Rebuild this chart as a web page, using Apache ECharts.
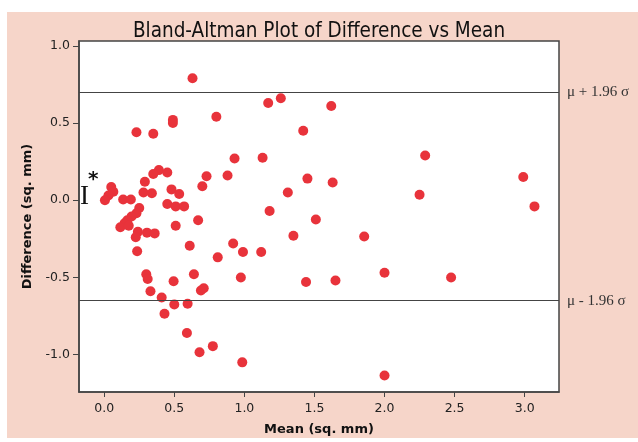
<!DOCTYPE html>
<html>
<head>
<meta charset="utf-8">
<script src="https://cdn.jsdelivr.net/npm/echarts@6/dist/echarts.min.js"></script>
<style>
  html, body { margin: 0; padding: 0; background: #fff; }
  #chart { width: 638px; height: 442px; }
</style>
</head>
<body>
<div id="chart"></div>
<script>
// mean (x) and difference (y) of each pair
const meanVals = [
  0.63, 0.80, 0.49, 0.49, 0.23, 0.35, 1.26, 1.17, 1.62, 1.42, 2.29, 0.93, 1.13, 0.88, 1.45, 1.63,
  1.31, 2.25, 1.18, 1.51, 2.99, 3.07, 0.39, 0.45, 0.35, 0.73, 0.29, 0.70, 0.05, 0.065, 0.03, 0.48,
  0.28, 0.34, 0.535, 0.005, 0.135, 0.19, 0.45, 0.51, 0.57, 0.25, 0.23, 0.195, 0.165, 0.145, 0.115,
  0.175, 0.67, 0.51, 0.24, 0.305, 0.36, 0.225, 0.235, 0.61, 0.92, 0.99, 1.12, 0.81, 1.35, 1.855,
  0.30, 0.31, 0.64, 0.495, 0.975, 1.44, 1.65, 2.0, 2.475, 0.33, 0.69, 0.71, 0.41, 0.50, 0.595,
  0.43, 0.59, 0.775, 0.68, 0.985, 2.0
];
const diffVals = [
  0.79, 0.54, 0.52, 0.50, 0.44, 0.43, 0.66, 0.63, 0.61, 0.45, 0.29, 0.27, 0.275, 0.16, 0.14, 0.115,
  0.05, 0.035, -0.07, -0.125, 0.15, -0.04, 0.195, 0.18, 0.17, 0.155, 0.12, 0.09, 0.085, 0.055, 0.03, 0.07,
  0.05, 0.045, 0.04, 0.0, 0.005, 0.005, -0.025, -0.04, -0.04, -0.05, -0.085, -0.105, -0.13, -0.15, -0.175,
  -0.165, -0.13, -0.165, -0.205, -0.21, -0.215, -0.24, -0.33, -0.295, -0.28, -0.335, -0.335, -0.37, -0.23, -0.235,
  -0.48, -0.51, -0.48, -0.525, -0.50, -0.53, -0.52, -0.47, -0.50, -0.59, -0.585, -0.57, -0.63, -0.675, -0.67,
  -0.735, -0.86, -0.945, -0.985, -1.05, -1.135
];
const upperLimit = 0.703;
const lowerLimit = -0.647;
const xTicks = [0, 0.5, 1.0, 1.5, 2.0, 2.5, 3.0];
const yTicks = [-1.0, -0.5, 0.0, 0.5, 1.0];

const points = meanVals.map((m, i) => [m, diffVals[i]]);

const chart = echarts.init(document.getElementById('chart'));

const axisText = { color: '#222', fontFamily: 'DejaVu Sans', fontSize: 12.5 };

const option = {
  animation: false,
  graphic: [
    {
      type: 'rect',
      z: -10,
      shape: { x: 7, y: 12, width: 631, height: 426 },
      style: { fill: '#f6d5c9' },
      silent: true
    }
  ],
  title: {
    text: 'Bland-Altman Plot of Difference vs Mean',
    left: 'center',
    top: 16,
    textStyle: { fontFamily: 'DejaVu Sans Condensed, DejaVu Sans', fontWeight: 'normal', fontSize: 20.5, color: '#111' }
  },
  grid: {
    left: 79, top: 41, right: 79, bottom: 50,
    show: true,
    backgroundColor: '#fff',
    borderColor: '#444',
    borderWidth: 1.5
  },
  xAxis: {
    type: 'value',
    min: -0.18,
    max: 3.245,
    name: 'Mean (sq. mm)',
    nameLocation: 'middle',
    nameGap: 31,
    nameTextStyle: { fontFamily: 'DejaVu Sans', fontWeight: 'bold', fontSize: 13, color: '#111' },
    axisLine: { show: true, onZero: false, lineStyle: { color: '#444', width: 1.5 } },
    axisTick: { show: true, length: 5, customValues: xTicks, lineStyle: { color: '#444' } },
    axisLabel: Object.assign({ customValues: xTicks, margin: 10, formatter: v => v.toFixed(1) }, axisText),
    splitLine: { show: false }
  },
  yAxis: {
    type: 'value',
    min: -1.242,
    max: 1.031,
    name: 'Difference (sq. mm)',
    nameLocation: 'middle',
    nameGap: 45,
    nameTextStyle: { fontFamily: 'DejaVu Sans', fontWeight: 'bold', fontSize: 13, color: '#111' },
    axisLine: { show: true, onZero: false, lineStyle: { color: '#444', width: 1.5 } },
    axisTick: { show: true, length: 6, customValues: yTicks, lineStyle: { color: '#444' } },
    axisLabel: Object.assign({ customValues: yTicks, margin: 9, formatter: v => v.toFixed(1) }, axisText),
    splitLine: { show: false }
  },
  series: [
    {
      type: 'scatter',
      data: points,
      symbolSize: 10,
      itemStyle: { color: '#e8333b', opacity: 1 },
      markLine: {
        silent: true,
        symbol: 'none',
        lineStyle: { color: '#444', type: 'solid', width: 1.2 },
        label: {
          position: 'end',
          distance: 8,
          fontFamily: 'Liberation Serif',
          fontSize: 15,
          color: '#333'
        },
        data: [
          { yAxis: upperLimit, label: { formatter: 'μ + 1.96 σ' } },
          { yAxis: lowerLimit, label: { formatter: 'μ - 1.96 σ' } }
        ]
      },
      markPoint: {
        silent: true,
        symbol: 'circle',
        symbolSize: 0,
        data: [
          {
            coord: [-0.14, 0.022],
            label: { show: true, formatter: 'I', position: 'inside', fontFamily: 'Liberation Serif', fontSize: 27, color: '#111' }
          },
          {
            coord: [-0.078, 0.13],
            label: { show: true, formatter: '*', position: 'inside', fontFamily: 'DejaVu Sans', fontWeight: 'bold', fontSize: 20, color: '#111' }
          }
        ]
      }
    }
  ]
};

chart.setOption(option);
</script>
</body>
</html>
